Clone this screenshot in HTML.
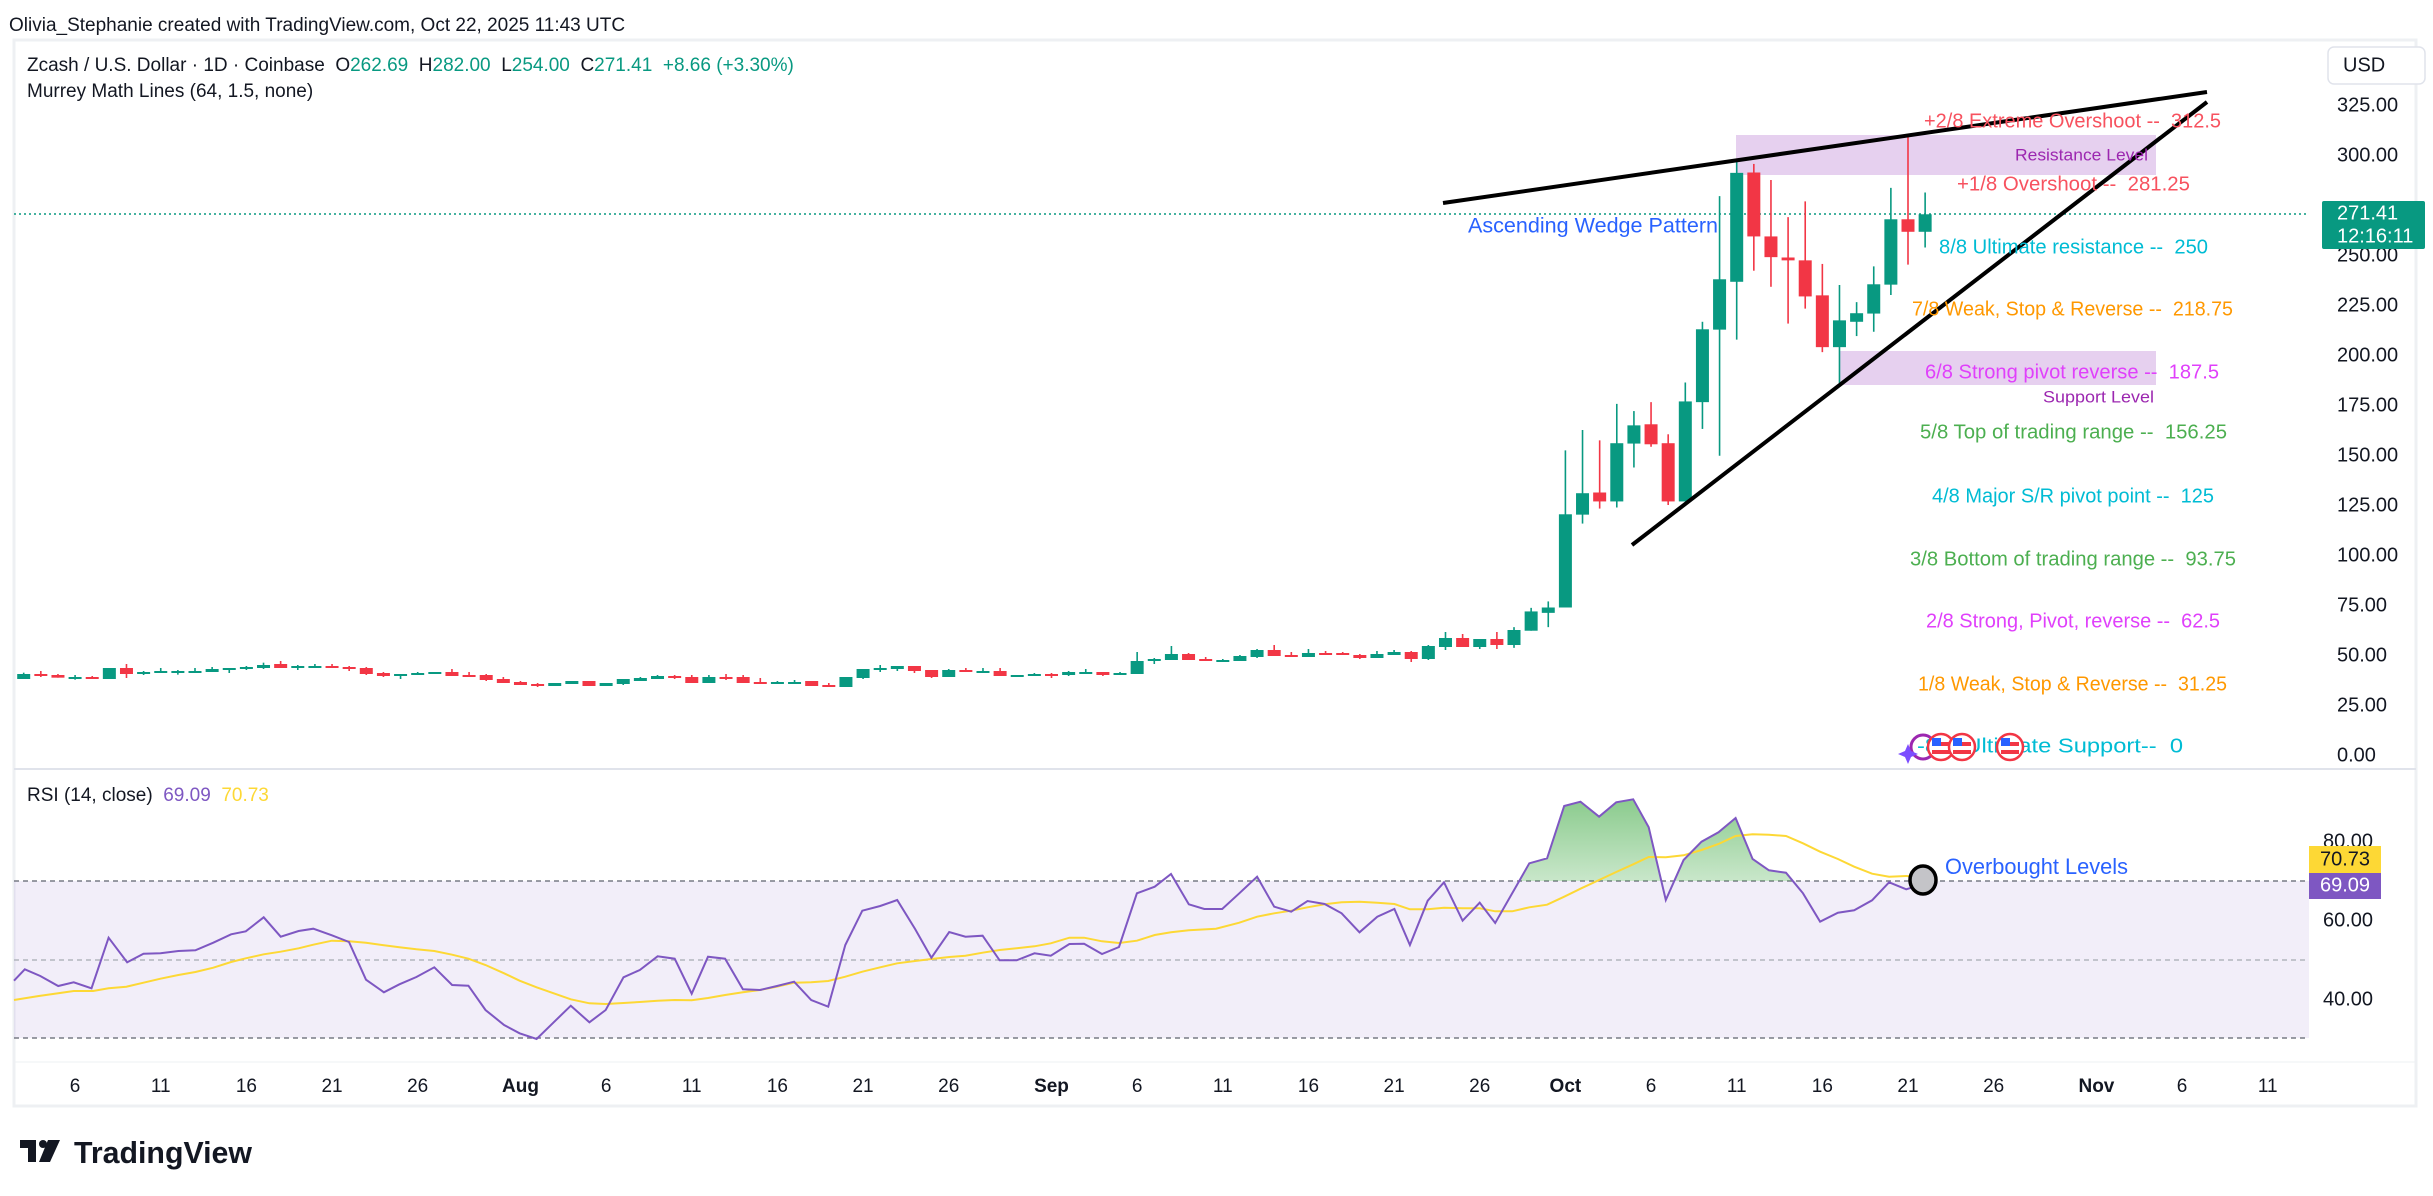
<!DOCTYPE html>
<html><head><meta charset="utf-8">
<style>
html,body{margin:0;padding:0;background:#fff;}
svg{display:block;font-family:"Liberation Sans",Arial,sans-serif;}
text{white-space:pre;}
</style></head>
<body>
<svg id="s" width="2433" height="1196" xmlns="http://www.w3.org/2000/svg" xml:space="preserve">
<defs>
<linearGradient id="gg" x1="0" y1="0" x2="0" y2="1">
<stop offset="0" stop-color="#4caf50" stop-opacity="0.65"/>
<stop offset="1" stop-color="#4caf50" stop-opacity="0.03"/>
</linearGradient>
<clipPath id="above"><rect x="14" y="770" width="2295" height="111"/></clipPath>
</defs>
<rect width="2433" height="1196" fill="#fff"/>
<text x="9" y="31" font-size="19" fill="#131722">Olivia_Stephanie created with TradingView.com, Oct 22, 2025 11:43 UTC</text>
<rect x="14" y="40" width="2402" height="1066" fill="none" stroke="#eef0f3" stroke-width="3"/>
<line x1="14" y1="769" x2="2416" y2="769" stroke="#e0e3eb" stroke-width="2"/>
<line x1="14" y1="1062" x2="2416" y2="1062" stroke="#eef0f3" stroke-width="1"/>
<rect x="14" y="881" width="2295" height="157" fill="#7e57c2" fill-opacity="0.1"/>
<line x1="14" y1="881" x2="2309" y2="881" stroke="#787b86" stroke-width="1.5" stroke-dasharray="5,4"/>
<line x1="14" y1="960" x2="2309" y2="960" stroke="#b2b5be" stroke-width="1.5" stroke-dasharray="5,4"/>
<line x1="14" y1="1038" x2="2309" y2="1038" stroke="#787b86" stroke-width="1.5" stroke-dasharray="5,4"/>
<g id="g"></g>
<text x="27" y="71" font-size="19" fill="#131722">Zcash / U.S. Dollar · 1D · Coinbase  O<tspan fill="#089981">262.69</tspan>  H<tspan fill="#089981">282.00</tspan>  L<tspan fill="#089981">254.00</tspan>  C<tspan fill="#089981">271.41</tspan>  <tspan fill="#089981">+8.66 (+3.30%)</tspan></text>
<text x="27" y="97" font-size="19" fill="#131722">Murrey Math Lines (64, 1.5, none)</text>
<text x="27" y="801" font-size="19" fill="#131722">RSI (14, close)  <tspan fill="#7e57c2">69.09</tspan>  <tspan fill="#fdd835">70.73</tspan></text>
<g transform="translate(20,1140)">
<rect x="0" y="0" width="16" height="8" fill="#131722"/><rect x="8" y="0" width="8" height="22" fill="#131722"/>
<circle cx="23" cy="4" r="4" fill="#131722"/><polygon points="28,0 40,0 30,22 19,22" fill="#131722"/>
</g>
<text x="74" y="1163" font-size="31" font-weight="bold" fill="#131722" textLength="178" lengthAdjust="spacingAndGlyphs">TradingView</text>
</svg>
<script>
var S="http://www.w3.org/2000/svg",g=document.getElementById('g');
function el(t,a,p){var e=document.createElementNS(S,t);for(var k in a)e.setAttribute(k,a[k]);(p||g).appendChild(e);return e;}
function tx(x,y,s,fs,fill,anchor,w,bold){var e=el('text',{x:x,y:y,'font-size':fs,fill:fill,'text-anchor':anchor||'start','dominant-baseline':'middle'});if(w){e.setAttribute('textLength',w);e.setAttribute('lengthAdjust','spacingAndGlyphs');}if(bold)e.setAttribute('font-weight','bold');e.textContent=s;return e;}
function dx(d){return 1736.7+(d-102)*17.13;}
var G='#089981',R='#f23645';
var z3=[[2,G,192,207,188,207],[3,R,192,198,183,201],[4,R,195,203,192,203],[5,G,201,203,195,209],[6,R,201,207,198,207],[7,G,174,207,174,207],[8,R,174,192,162,204],[9,G,186,192,183,195],[10,G,183,186,174,189],[11,G,183,185,180,194],[12,G,183,185,174,185],[13,G,177,186,171,186],[14,G,174,180,174,189],[15,G,171,174,168,180],[16,G,165,174,158,177],[17,R,162,174,153,174],[18,G,168,174,165,180],[19,G,168,171,162,174],[20,R,168,171,162,174],[21,R,171,174,168,183],[22,R,174,192,171,195],[23,R,189,198,186,201],[24,G,192,198,192,207],[25,G,189,192,186,195],[26,G,186,192,186,192],[27,R,186,198,177,198],[28,R,195,197,186,197],[29,R,195,210,192,213],[30,R,207,219,201,219],[31,R,216,225,213,225],[32,R,222,228,219,231],[33,G,219,228,219,228],[34,G,213,222,213,222],[35,R,213,228,213,228],[36,G,219,228,219,228],[37,G,207,222,207,225],[38,G,204,213,201,213],[39,G,198,207,195,207],[40,R,198,201,195,207],[41,R,201,219,195,219],[42,G,201,219,195,219],[43,R,201,204,192,210]];
var z4=[[44,R,261,279,255,279],[45,R,276,279,264,282],[46,G,276,279,273,282],[47,G,276,279,270,279],[48,R,273,288,273,288],[49,R,285,291,279,291],[50,G,261,291,261,291],[51,G,237,264,237,267],[52,G,234,240,225,246],[53,G,228,237,228,243],[54,R,228,243,228,249],[55,R,240,261,240,264],[56,G,240,261,237,261],[57,R,240,246,234,246],[58,G,243,246,234,249],[59,R,243,258,234,258],[60,G,255,258,255,258],[61,G,252,258,249,258],[62,R,252,255,249,264],[63,G,246,255,243,258],[64,G,246,249,237,252],[65,R,246,255,246,258],[66,G,249,255,246,255],[67,G,213,252,186,252],[68,G,207,213,204,222],[69,G,192,210,168,210],[70,R,192,210,189,210],[71,R,207,210,201,213],[72,G,210,213,207,216],[73,G,198,213,195,213],[74,G,180,201,177,204],[75,R,180,198,165,198],[76,R,195,198,186,201],[77,G,189,201,177,201],[78,R,189,192,183,195],[79,R,189,195,186,195],[80,R,195,204,192,207],[81,G,192,204,183,204],[82,G,186,195,180,195],[83,R,186,207,183,216],[84,G,168,207,165,210],[85,G,144,171,126,180],[86,R,144,171,132,171],[87,G,147,171,147,177],[88,R,147,165,126,177]];
var z1=[[89,G,1428,1470,1420,1478],[90,G,1376,1430,1366,1430],[91,G,1365,1380,1348,1420],[92,G,1104,1365,925,1365],[93,G,1045,1105,868,1130],[94,R,1043,1068,897,1088],[95,G,905,1068,795,1085],[96,G,855,906,815,973],[97,R,852,908,790,915],[98,R,905,1068,880,1078],[99,G,788,1068,735,1068],[100,G,586,790,565,865],[101,G,446,587,213,940],[102,G,148,453,112,615],[103,R,147,326,123,422],[104,R,326,384,168,467],[105,R,385,393,272,570],[106,R,393,494,228,528],[107,R,491,636,403,650],[108,G,561,636,462,737],[109,G,541,565,510,605],[110,G,460,542,410,593],[111,G,278,461,190,490],[112,R,278,313,42,405],[113,G,264,313,203,357]];
el('rect',{x:1736,y:135,width:420,height:40,fill:'#e6d0ef'});
el('rect',{x:1840,y:351,width:316,height:34,fill:'#e6d0ef'});
el('line',{x1:14,y1:214,x2:2309,y2:214,stroke:G,'stroke-width':1.5,'stroke-dasharray':'2,3'});
function draw(arr,f){arr.forEach(function(c){var x=dx(c[0]);var bt=f(c[2]),bb=f(c[3]),wt=f(c[4]),wb=f(c[5]);
el('line',{x1:x,y1:wt,x2:x,y2:wb,stroke:c[1],'stroke-width':1.6});
el('rect',{x:x-6.5,y:bt,width:13,height:Math.max(bb-bt,2),fill:c[1]});});}
draw(z3,function(v){return 610+v/3;});
draw(z4,function(v){return 590+v/3;});
draw(z1,function(v){return 120+v/2.8;});
el('line',{x1:1443,y1:203,x2:2207,y2:92,stroke:'#000','stroke-width':4});
el('line',{x1:1632,y1:545,x2:2207,y2:102,stroke:'#000','stroke-width':4});
var L=[['+2/8 Extreme Overshoot --  312.5','#f7525f',1924,2221,122],['+1/8 Overshoot --  281.25','#f7525f',1957,2190,185],['8/8 Ultimate resistance --  250','#00bcd4',1939,2208,248],['7/8 Weak, Stop & Reverse --  218.75','#ff9800',1912,2233,310],['6/8 Strong pivot reverse --  187.5','#e040fb',1925,2219,373],['5/8 Top of trading range --  156.25','#4caf50',1920,2227,433],['4/8 Major S/R pivot point --  125','#00bcd4',1932,2214,497],['3/8 Bottom of trading range --  93.75','#4caf50',1910,2236,560],['2/8 Strong, Pivot, reverse --  62.5','#e040fb',1926,2220,622],['1/8 Weak, Stop & Reverse --  31.25','#ff9800',1918,2227,685],['-8/8 Ultimate Support--  0','#00bcd4',1917,2183,747]];
L.forEach(function(l){tx(l[2],l[4],l[0],20,l[1],'start',l[3]-l[2]);});
tx(2148,156,'Resistance Level',17,'#9c27b0','end',133);
tx(2154,398,'Support Level',17,'#9c27b0','end',111);
tx(1468,227,'Ascending Wedge Pattern',21,'#2962ff','start',250);
el('circle',{cx:1923,cy:747,r:12,fill:'none',stroke:'#9c27b0','stroke-width':3});
el('polygon',{points:'1908,744 1911,751 1918,754 1911,757 1908,764 1905,757 1898,754 1905,751',fill:'#7c4dff'});
[1941,1962,2010].forEach(function(x){el('circle',{cx:x,cy:747,r:13,fill:'#fff',stroke:'#f23645','stroke-width':2.5});
el('rect',{x:x-9,y:742,width:18,height:4,fill:'#f23645'});el('rect',{x:x-9,y:750,width:18,height:4,fill:'#f23645'});
el('rect',{x:x-9,y:738,width:9,height:8,fill:'#2962ff'});});
function pts(a,off){return a.map(function(p){return ((p[0]/1.2895)+off).toFixed(1)+','+(770+p[1]/3).toFixed(1);});}
var p5=[[18,632],[32,598],[52,618],[75,648],[95,637],[118,655],[140,503],[164,577],[185,551],[207,550],[230,543],[252,541],[275,518],[298,493],[317,484],[340,442],[362,500],[385,483],[404,476],[428,496],[450,516],[472,629],[495,667],[515,643],[537,621],[560,592],[583,645],[604,647],[626,720],[650,765],[670,790],[692,807],[714,757],[736,707],[760,757],[781,720],[804,622],[825,600],[848,559],[870,566],[892,671],[913,560],[935,566],[958,658],[980,660],[1002,648],[1024,635],[1046,690],[1068,710],[1090,525],[1112,422],[1135,408],[1157,390],[1180,477],[1201,563],[1224,486],[1245,500],[1267,497],[1289,571],[1311,571],[1334,550],[1355,557],[1379,522],[1398,521],[1421,552],[1443,531],[1466,370],[1489,350],[1510,312],[1533,403],[1553,417],[1568,417]];
var p6=[[8,417],[30,370],[53,320],[75,410],[97,425],[118,393],[140,402],[162,430],[185,487],[208,440],[230,417],[250,525],[273,392],[294,337],[318,452],[340,398],[360,459],[382,370],[404,280],[427,265],[449,108],[470,95],[494,140],[516,97],[538,88],[558,172],[580,390],[603,270],[626,215],[648,187],[670,144],[692,267],[713,301],[735,308],[757,370],[779,455],[802,428],[823,421],[846,391],[868,337],[890,358],[912,342]];
var y5=[[18,690],[50,678],[75,670],[95,663],[120,663],[140,655],[163,650],[185,638],[207,626],[230,615],[252,606],[275,593],[298,576],[317,565],[340,553],[362,545],[385,535],[404,524],[428,512],[450,514],[472,518],[495,526],[515,532],[537,538],[560,543],[583,554],[604,566],[626,585],[650,610],[670,632],[692,652],[714,670],[736,688],[760,700],[781,702],[804,699],[825,696],[848,692],[870,690],[892,691],[913,684],[935,675],[958,667],[980,660],[1002,650],[1024,638],[1046,637],[1068,633],[1090,620],[1112,605],[1135,592],[1157,580],[1180,573],[1201,567],[1224,561],[1245,557],[1267,548],[1289,540],[1311,535],[1334,529],[1355,520],[1379,503],[1398,503],[1421,514],[1443,519],[1466,512],[1489,495],[1510,487],[1533,481],[1568,476]];
var y6=[[30,458],[53,440],[75,430],[97,422],[118,412],[140,403],[162,397],[185,395],[208,398],[230,402],[250,418],[273,418],[294,413],[318,415],[340,415],[360,424],[382,424],[404,412],[427,404],[449,380],[470,356],[494,330],[516,306],[538,283],[558,261],[580,262],[603,256],[626,240],[648,222],[670,198],[692,193],[713,194],[735,198],[757,220],[779,245],[802,267],[823,290],[846,311],[868,320],[890,318],[912,322]];
var purple=pts(p5,0).concat(pts(p6,1216)),yellow=pts(y5,0).concat(pts(y6,1216));
var fillPts=pts(p6,1216);
el('polygon',{points:'1222,881 '+fillPts.join(' ')+' 1923,881',fill:'url(#gg)','clip-path':'url(#above)'});
el('polyline',{points:yellow.join(' '),fill:'none',stroke:'#fdd835','stroke-width':2});
el('polyline',{points:purple.join(' '),fill:'none',stroke:'#7e57c2','stroke-width':2});
el('ellipse',{cx:1923,cy:880,rx:13,ry:14,fill:'#c4c4c8',stroke:'#000','stroke-width':3.5});
tx(1945,868,'Overbought Levels',22,'#2962ff','start',183);
[325,300,275,250,225,200,175,150,125,100,75,50,25,0].forEach(function(p){if(p==275)return;var y=756-2*p;tx(2337,y,p.toFixed(2),20,'#131722','start');});
el('rect',{x:2328,y:47,width:97,height:37,rx:6,fill:'#fff',stroke:'#e0e3eb','stroke-width':1.5});
tx(2343,66,'USD',20,'#131722','start');
el('rect',{x:2322,y:201,width:103,height:48,rx:2,fill:G});
tx(2337,214,'271.41',20,'#fff','start');tx(2337,237,'12:16:11',20,'#fff','start');
[[80,842],[60,921],[40,1000]].forEach(function(r){tx(2323,r[1],r[0].toFixed(2),20,'#131722','start');});
el('rect',{x:2309,y:846,width:72,height:27,fill:'#fdd835'});tx(2345,860,'70.73',20,'#131722','middle');
el('rect',{x:2309,y:873,width:72,height:26,fill:'#7e57c2'});tx(2345,886,'69.09',20,'#fff','middle');
var T=[[5,'6'],[10,'11'],[15,'16'],[20,'21'],[25,'26'],[31,'Aug',1],[36,'6'],[41,'11'],[46,'16'],[51,'21'],[56,'26'],[62,'Sep',1],[67,'6'],[72,'11'],[77,'16'],[82,'21'],[87,'26'],[92,'Oct',1],[97,'6'],[102,'11'],[107,'16'],[112,'21'],[117,'26'],[123,'Nov',1],[128,'6'],[133,'11']];
T.forEach(function(t){tx(dx(t[0]),1087,t[1],19,'#131722','middle',null,t[2]);});
</script>
</body></html>
